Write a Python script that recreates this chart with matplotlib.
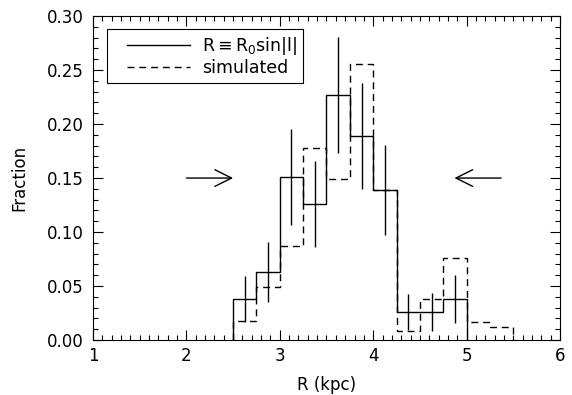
import matplotlib
matplotlib.use('Agg')
import matplotlib.pyplot as plt
from matplotlib.legend_handler import HandlerLine2D
from matplotlib.lines import Line2D
import numpy as np

# bin edges (kpc) and fractions
edges_obs = [2.5, 2.75, 3.0, 3.25, 3.5, 3.75, 4.0, 4.25, 4.5, 4.75, 5.0]
frac_obs = [0.038, 0.063, 0.151, 0.126, 0.227, 0.189, 0.139, 0.026, 0.026, 0.038]
err_obs = [0.021, 0.028, 0.044, 0.040, 0.054, 0.049, 0.042, 0.017, 0.018, 0.022]

edges_sim = [2.5, 2.75, 3.0, 3.25, 3.5, 3.75, 4.0, 4.25, 4.5, 4.75, 5.0, 5.25, 5.5]
frac_sim = [0.018, 0.049, 0.087, 0.178, 0.149, 0.256, 0.139, 0.008, 0.038, 0.076, 0.017, 0.012]

arrow_y = 0.15
left_arrow = (2.0, 2.5)     # tail, tip
right_arrow = (5.37, 4.87)  # tail, tip

plt.rcParams['font.family'] = ['DejaVu Sans']
plt.rcParams['mathtext.default'] = 'regular'

fig = plt.figure(figsize=(5.72, 3.95), dpi=100)
ax = fig.add_axes([0.1626, 0.139, 0.8164, 0.8205])

dash = (0, (5, 3.5))
ax.stairs(frac_obs, edges_obs, color='k', lw=1.0)
ax.stairs(frac_sim, edges_sim, color='k', lw=1.0, linestyle=dash)

centers = np.array(edges_obs[:-1]) + np.diff(edges_obs) / 2
ax.errorbar(centers, frac_obs, yerr=err_obs, fmt='none', ecolor='k', elinewidth=1.0)

for tail, tip in (left_arrow, right_arrow):
    ax.annotate('', xy=(tip, arrow_y), xytext=(tail, arrow_y),
                arrowprops=dict(arrowstyle='->,head_length=0.6,head_width=0.3',
                                color='k', lw=1.0, mutation_scale=20,
                                shrinkA=0, shrinkB=0))

ax.set_xlim(1, 6)
ax.set_ylim(0, 0.30)
ax.set_xticks([1, 2, 3, 4, 5, 6])
ax.set_yticks(np.arange(0, 0.31, 0.05))
ax.set_yticklabels(['%.2f' % v for v in np.arange(0, 0.31, 0.05)])
ax.xaxis.set_minor_locator(matplotlib.ticker.MultipleLocator(0.1))
ax.yaxis.set_minor_locator(matplotlib.ticker.MultipleLocator(0.01))
ax.tick_params(which='both', direction='in', top=True, right=True, labelsize=12)
ax.tick_params(which='major', length=7, width=0.8, pad=7)
ax.tick_params(axis='x', which='major', pad=5)
ax.tick_params(which='minor', length=3.5, width=0.8)
for s in ax.spines.values():
    s.set_linewidth(0.8)

ax.set_xlabel('R (kpc)', fontsize=12, labelpad=8)
ax.set_ylabel('Fraction', fontsize=12, labelpad=13)

# legend with the handle lines indented like the original
h_obs = Line2D([], [], color='k', lw=1.0)
h_sim = Line2D([], [], color='k', lw=1.0, linestyle=dash)
hm = {h_obs: HandlerLine2D(xpad=0.8), h_sim: HandlerLine2D(xpad=0.8)}
leg = ax.legend([h_obs, h_sim], [r'R$\equiv$R$_0$sin|l|', 'simulated'],
                handler_map=hm, loc='upper left', bbox_to_anchor=(0.03, 0.96),
                borderaxespad=0, fontsize=12.5, handlelength=4.43,
                handletextpad=0.69, borderpad=0.35, labelspacing=0.1,
                fancybox=False, framealpha=1)
leg.get_frame().set_edgecolor('k')
leg.get_frame().set_linewidth(0.8)

fig.savefig('out.png', dpi=100)
